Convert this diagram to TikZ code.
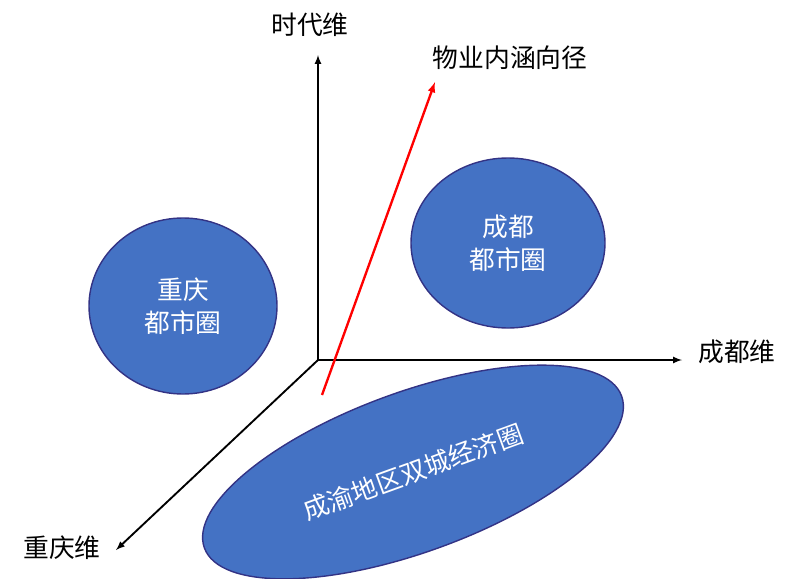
\documentclass[tikz,border=0pt]{standalone}
\usepackage{fontspec}
\setmainfont{Noto Sans CJK SC}
\begin{document}
\begin{tikzpicture}[x=0.03cm,y=-0.03cm,
  blob/.style={draw=blue!40!black!80,line width=1.2pt,fill={rgb,255:red,68;green,114;blue,196}},
  btxt/.style={text=white,font=\fontsize{22}{28}\selectfont,align=center},
  lbl/.style={font=\fontsize{22}{26}\selectfont,inner sep=0pt},
  ax/.style={line width=1.6pt,-latex}]
\useasboundingbox (0,0) rectangle (800,578);
\coordinate (o) at (318,360);
\node[lbl] (t) at (310,25) {时代维};
\node[lbl] (c) at (737,352) {成都维};
\node[lbl] (q) at (62,548) {重庆维};
\node[lbl] (w) at (510,58) {物业内涵向径};
\coordinate (te) at (318,55);
\coordinate (ce) at (682,360);
\coordinate (qe) at (116,550);
\draw[ax] (o) -- (te);
\draw[ax] (o) -- (ce);
\draw[ax] (o) -- (qe);
\draw[blob] (183,306) ellipse [x radius=94, y radius=88];
\node[btxt] (qc) at (183,306) {重庆\\都市圈};
\draw[blob] (508,243) ellipse [x radius=97, y radius=85];
\node[btxt] (cc) at (508,243) {成都\\都市圈};
\draw[blob,rotate around={20:(413,472)}] (413,472) ellipse [x radius=222, y radius=80];
\node[btxt,rotate=20] (sc) at (413,472) {成渝地区双城经济圈};
\coordinate (rs) at (322,395);
\coordinate (re) at (435,82);
\draw[red,line width=2pt,-latex] (rs) -- (re);
\end{tikzpicture}
\end{document}
